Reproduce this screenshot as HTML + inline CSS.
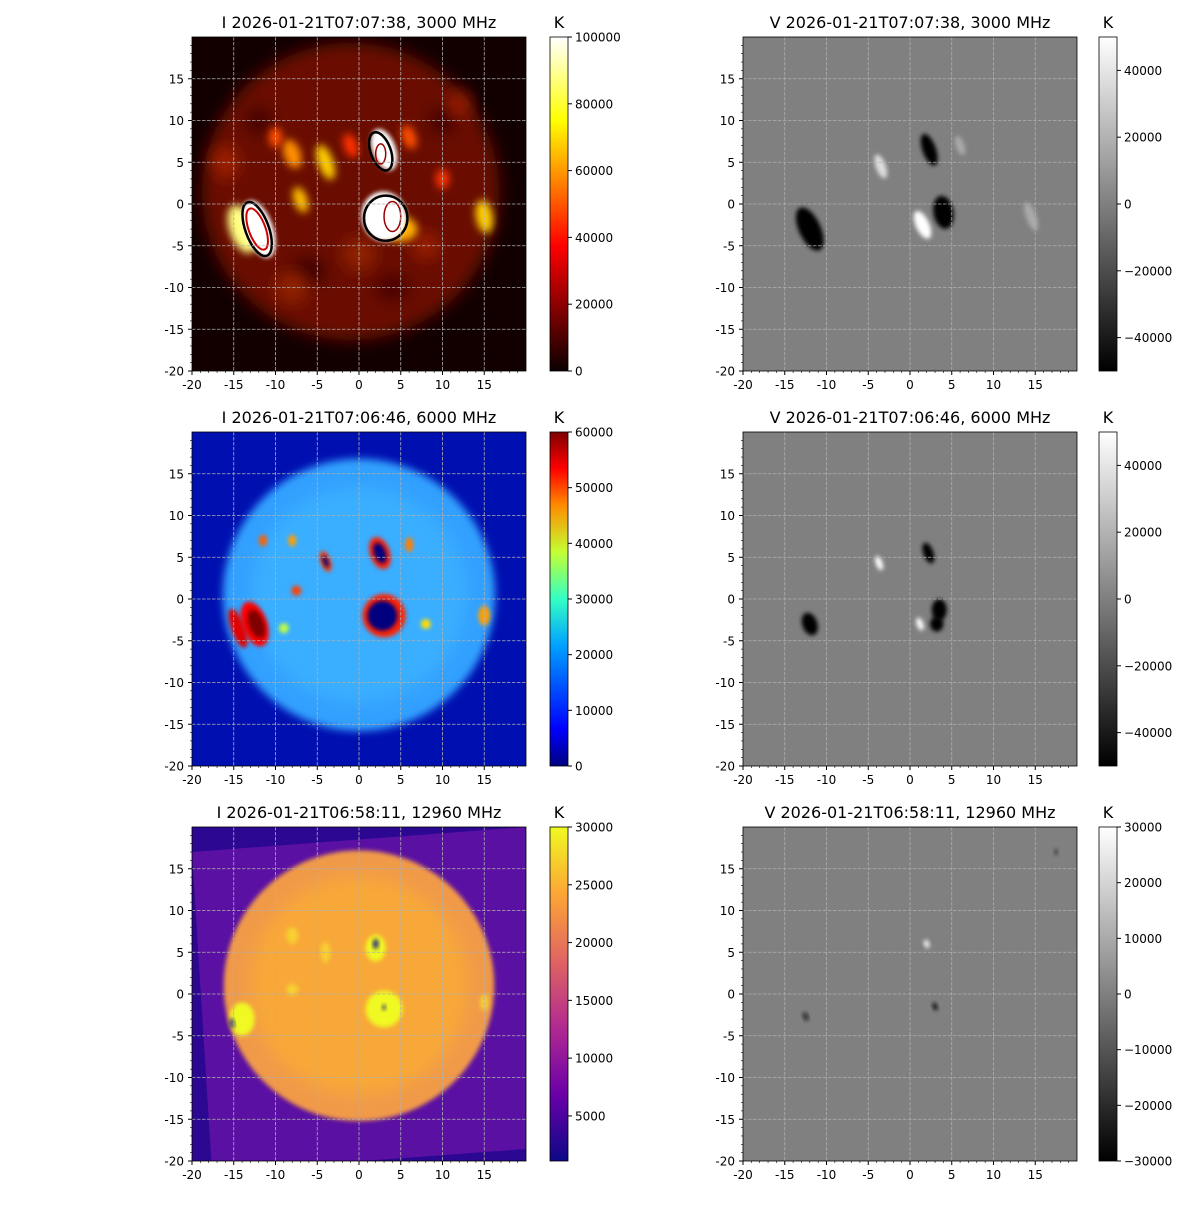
<!DOCTYPE html>
<html><head><meta charset="utf-8"><style>
body{margin:0;background:#fff}
svg text{font-family:"DejaVu Sans","Liberation Sans",sans-serif;fill:#000}
</style></head><body>
<svg id="s" width="1200" height="1200" xmlns="http://www.w3.org/2000/svg">
<defs>
<filter id="b2" x="-50%" y="-50%" width="200%" height="200%"><feGaussianBlur stdDeviation="2"/></filter>
<filter id="b4" x="-50%" y="-50%" width="200%" height="200%"><feGaussianBlur stdDeviation="4"/></filter>
<filter id="b8" x="-50%" y="-50%" width="200%" height="200%"><feGaussianBlur stdDeviation="8"/></filter>
<linearGradient id="hot" x1="0" y1="1" x2="0" y2="0"><stop offset="0" stop-color="#0b0000"/><stop offset=".375" stop-color="#ff0000"/><stop offset=".75" stop-color="#ffff00"/><stop offset="1" stop-color="#fff"/></linearGradient>
<linearGradient id="jet" x1="0" y1="1" x2="0" y2="0"><stop offset="0" stop-color="#00007f"/><stop offset=".11" stop-color="#0000ff"/><stop offset=".36" stop-color="#00a0ff"/><stop offset=".5" stop-color="#33ffc4"/><stop offset=".64" stop-color="#c4ff33"/><stop offset=".78" stop-color="#ff8c00"/><stop offset=".89" stop-color="#ff0000"/><stop offset="1" stop-color="#7f0000"/></linearGradient>
<linearGradient id="pla" x1="0" y1="1" x2="0" y2="0"><stop offset="0" stop-color="#0d0887"/><stop offset=".2" stop-color="#6a00a8"/><stop offset=".4" stop-color="#b12a90"/><stop offset=".6" stop-color="#e16462"/><stop offset=".8" stop-color="#fca636"/><stop offset="1" stop-color="#f0f921"/></linearGradient>
<linearGradient id="gry" x1="0" y1="1" x2="0" y2="0"><stop offset="0" stop-color="#000"/><stop offset="1" stop-color="#fff"/></linearGradient>
<clipPath id="cp"><rect width="334" height="334"/></clipPath>
</defs>
</svg>
<script>
const S=document.getElementById('s');
let h='';
const sc=8.35;
const X=v=>(v+20)*sc, Y=v=>(20-v)*sc;
function blob(x,y,rx,ry,rot,col,f){return `<ellipse cx="${X(x)}" cy="${Y(y)}" rx="${rx*sc}" ry="${ry*sc}" fill="${col}" transform="rotate(${rot} ${X(x)} ${Y(y)})" filter="url(#${f||'b4'})"/>`;}
function panel(px,py,title,content,cb,cmin,cmax,ticks){
 h+=`<g transform="translate(${px},${py})"><g clip-path="url(#cp)">${content}`;
 for(let v=-15;v<=15;v+=5){h+=`<line x1="${X(v)}" y1="0" x2="${X(v)}" y2="334" stroke="#b0b0b0" stroke-dasharray="3.5,1.5" stroke-width="0.8"/><line x1="0" y1="${Y(v)}" x2="334" y2="${Y(v)}" stroke="#b0b0b0" stroke-dasharray="3.5,1.5" stroke-width="0.8"/>`;}
 h+=`</g><rect width="334" height="334" fill="none" stroke="#000" stroke-width="0.8"/>`;
 for(let v=-20;v<=15;v+=5){h+=`<line x1="${X(v)}" y1="334" x2="${X(v)}" y2="338" stroke="#000"/><text x="${X(v)}" y="352" font-size="12" text-anchor="middle">${v}</text>`;
 h+=`<line x1="0" y1="${Y(v)}" x2="-4" y2="${Y(v)}" stroke="#000"/><text x="-8" y="${Y(v)+4.5}" font-size="12" text-anchor="end">${v}</text>`;}
 for(let v=-19;v<20;v++){if(v%5==0)continue;h+=`<line x1="${X(v)}" y1="334" x2="${X(v)}" y2="336" stroke="#000" stroke-width=".6"/><line x1="0" y1="${Y(v)}" x2="-2" y2="${Y(v)}" stroke="#000" stroke-width=".6"/>`;}
 h+=`<text x="167" y="-9" font-size="16" text-anchor="middle">${title}</text>`;
 const cx=px<600?358:356;
 h+=`<rect x="${cx}" y="0" width="18" height="334" fill="url(#${cb})" stroke="#000" stroke-width=".8"/><text x="${cx+9}" y="-9" font-size="16" text-anchor="middle">K</text>`;
 for(const t of ticks){const y=334-(t-cmin)/(cmax-cmin)*334;h+=`<line x1="${cx+18}" y1="${y}" x2="${cx+22}" y2="${y}" stroke="#000"/><text x="${cx+25}" y="${y+4.5}" font-size="12">${t<0?'\u2212'+(-t):t}</text>`;}
 h+=`</g>`;
}
// Row1 I hot
let c=`<rect width="334" height="334" fill="#120000"/><circle cx="${X(-1)}" cy="${Y(1.5)}" r="${17.8*sc}" fill="#6a0e00" filter="url(#b8)"/>`;
[[-12,10,1.5,1.5,0,'#400400'],[-6,-8,2,1.5,0,'#3a0300'],[4,-10,2,1.5,0,'#480500'],[10,10,1.5,1.5,0,'#400400'],[-16,5,1.5,2,0,'#a02000'],[0,-6,2,2,0,'#902000'],[8,-5,1.5,1.5,0,'#a02000'],[-8,-10,2,2,0,'#902000'],[12,12,1.2,1.5,0,'#a02000']].forEach(b=>c+=blob(...b,'b8'));
[[-8,6,1,1.8,-20,'#ff9000'],[-4,5,0.9,2.2,-20,'#ffd000'],[-7,0.5,0.8,1.6,-20,'#ffc000'],[-10,8,0.8,1.2,0,'#ff5000'],[15,-1.5,1,2,-10,'#ffd000'],[6,8,0.8,1.5,-20,'#ff5000'],[-1,7,0.8,1.5,-20,'#ff3000'],[10,3,0.8,1.2,0,'#ff3000'],[5,-3,2,1.5,0,'#ffb000'],[-14,-3,1.5,3,-20,'#ffff80']].forEach(b=>c+=blob(...b));
c+=blob(-12,-3,1.7,3.6,-20,'#fff','b2')+blob(3,6.5,1.4,2.6,-20,'#fff','b2')+blob(3,-1.5,2.7,3,-10,'#fff','b2');
c+=`<ellipse cx="${X(-12.2)}" cy="${Y(-3)}" rx="${1.4*sc}" ry="${3.4*sc}" fill="none" stroke="#000" stroke-width="2.5" transform="rotate(-20 ${X(-12.2)} ${Y(-3)})"/><ellipse cx="${X(-12.2)}" cy="${Y(-3)}" rx="${1*sc}" ry="${2.6*sc}" fill="none" stroke="#c00" stroke-width="2" transform="rotate(-20 ${X(-12.2)} ${Y(-3)})"/>`;
c+=`<ellipse cx="${X(2.6)}" cy="${Y(6.3)}" rx="${1.2*sc}" ry="${2.4*sc}" fill="none" stroke="#000" stroke-width="2.5" transform="rotate(-20 ${X(2.6)} ${Y(6.3)})"/><ellipse cx="${X(2.6)}" cy="${Y(6)}" rx="${0.6*sc}" ry="${1.2*sc}" fill="none" stroke="#900" stroke-width="1.5"/>`;
c+=`<ellipse cx="${X(3.2)}" cy="${Y(-1.7)}" rx="${2.6*sc}" ry="${2.7*sc}" fill="none" stroke="#000" stroke-width="2.5"/><ellipse cx="${X(4)}" cy="${Y(-1.5)}" rx="${1*sc}" ry="${1.8*sc}" fill="none" stroke="#900" stroke-width="1.5"/>`;
panel(192,37,'I 2026-01-21T07:07:38, 3000 MHz',c,'hot',0,100000,[0,20000,40000,60000,80000,100000]);
// Row1 V
c=`<rect width="334" height="334" fill="#808080"/>`;
[[-12,-3,1.3,2.8,-25,'#000'],[2.3,6.5,0.8,2,-20,'#000'],[4,-1,1.2,2,-10,'#000'],[1.5,-2.5,0.8,1.8,-25,'#fff'],[-3.5,4.5,0.6,1.5,-20,'#ddd'],[14.5,-1.5,0.6,1.8,-20,'#aaa'],[6,7,0.5,1.2,-20,'#aaa']].forEach(b=>c+=blob(...b,'b2'));
panel(743,37,'V 2026-01-21T07:07:38, 3000 MHz',c,'gry',-50000,50000,[-40000,-20000,0,20000,40000]);
// Row2 I jet
c=`<rect width="334" height="334" fill="#0010b0"/><circle cx="${X(0)}" cy="${Y(0.5)}" r="${16.3*sc}" fill="#30a0ff" filter="url(#b4)"/><circle cx="${X(0)}" cy="${Y(0.5)}" r="${13*sc}" fill="#40b8ff" filter="url(#b8)" opacity=".6"/>`;
[[-12.5,-3,1.5,2.8,-20,'#ff0000'],[-14.5,-3.5,0.8,2.5,-20,'#e00000'],[3,-2,2.6,2.6,0,'#ff2000'],[2.5,5.5,1.2,2,-20,'#ff2000'],[-4,4.5,0.6,1.3,-20,'#ff4000'],[6,6.5,0.5,0.9,0,'#ff8000'],[-11.5,7,0.5,0.7,0,'#ff6000'],[-8,7,0.5,0.7,0,'#ffa000'],[-7.5,1,0.6,0.6,0,'#ff4000'],[15,-2,0.7,1.2,0,'#ffa000'],[8,-3,0.6,0.6,0,'#ffe000'],[-9,-3.5,0.6,0.6,0,'#c0ff40']].forEach(b=>c+=blob(...b,'b2'));
c+=blob(-12.3,-3,0.9,1.8,-20,'#7f0000','b2')+blob(2.8,-2,1.8,1.8,0,'#00007f','b2')+blob(2.5,5.5,0.7,1.3,-20,'#00007f','b2')+blob(-4,4.5,0.3,0.8,-20,'#000080','b2');
panel(192,432,'I 2026-01-21T07:06:46, 6000 MHz',c,'jet',0,60000,[0,10000,20000,30000,40000,50000,60000]);
// Row2 V
c=`<rect width="334" height="334" fill="#808080"/>`;
[[-12,-3,0.9,1.4,-20,'#000'],[2.2,5.5,0.6,1.3,-20,'#000'],[3.5,-1.3,0.9,1.3,0,'#000'],[3.2,-3,0.8,0.9,0,'#000'],[1.2,-3,0.4,0.8,-20,'#fff'],[-3.7,4.3,0.4,0.9,-20,'#fff']].forEach(b=>c+=blob(...b,'b2'));
panel(743,432,'V 2026-01-21T07:06:46, 6000 MHz',c,'gry',-50000,50000,[-40000,-20000,0,20000,40000]);
// Row3 I plasma
c=`<rect width="334" height="334" fill="#2c0892"/><polygon points="0,25 334,0 334,322 20,345" fill="#5a10a2"/><circle cx="${X(0)}" cy="${Y(1)}" r="${16.2*sc}" fill="#f09a48" filter="url(#b2)"/><circle cx="${X(0)}" cy="${Y(1)}" r="${13*sc}" fill="#f8a838" filter="url(#b8)"/>`;
[[-14,-3,1.5,2,0,'#f0f921'],[3,-1.8,2.2,2.2,0,'#f0f921'],[2,5.5,1.2,1.6,0,'#f0f921'],[-8,7,0.7,1,0,'#f7d030'],[-4,5,0.6,1.2,0,'#f7d030'],[-8,0.5,0.7,0.7,0,'#f7d030'],[15,-1,0.5,1,0,'#f7d030']].forEach(b=>c+=blob(...b,'b2'));
c+=blob(-15.2,-3.5,0.25,0.6,-10,'#0d0887','b2')+blob(2,6,0.3,0.6,0,'#0d0887','b2')+blob(3,-1.6,0.2,0.3,0,'#0d0887','b2');
panel(192,827,'I 2026-01-21T06:58:11, 12960 MHz',c,'pla',1100,30000,[5000,10000,15000,20000,25000,30000]);
// Row3 V
c=`<rect width="334" height="334" fill="#808080"/>`;
[[2,6,0.3,0.5,-20,'#fff'],[3,-1.5,0.25,0.5,-20,'#000'],[-12.5,-2.7,0.25,0.5,-20,'#111'],[17.5,17,0.2,0.3,0,'#222']].forEach(b=>c+=blob(...b,'b2'));
panel(743,827,'V 2026-01-21T06:58:11, 12960 MHz',c,'gry',-30000,30000,[-30000,-20000,-10000,0,10000,20000,30000]);
S.insertAdjacentHTML('beforeend',h);
</script>
</body></html>
